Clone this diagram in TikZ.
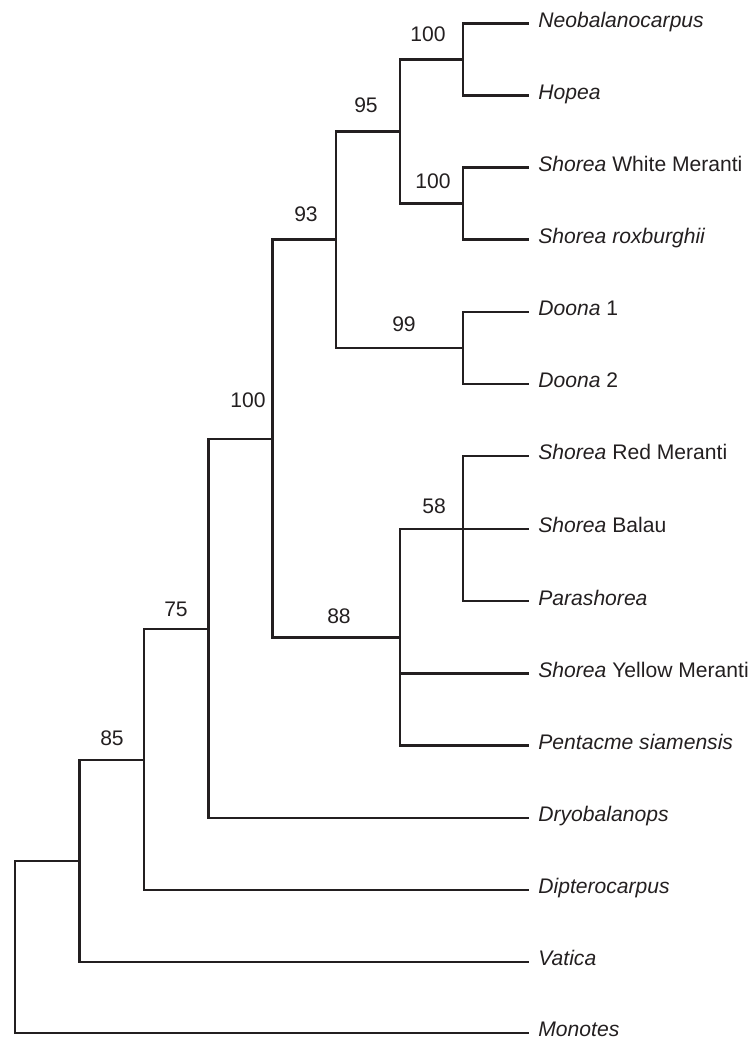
\documentclass[tikz,border=0pt]{standalone}
\usepackage{fontspec}
\setmainfont{Liberation Sans}
\definecolor{inkc}{HTML}{231F20}
\begin{document}
\begin{tikzpicture}[x=0.5pt,y=-0.5pt,
  branch/.style={draw=inkc, line width=1.2pt, line join=miter},
  leaf/.style={anchor=base west, inner sep=0pt, text=inkc, font=\fontsize{10.55}{12}\selectfont},
  support/.style={anchor=center, inner sep=0pt, text=inkc, font=\fontsize{10.55}{12}\selectfont}]
\useasboundingbox (0,0) rectangle (750,1040);
% leaf tips
\coordinate (t1) at (528.5,23.3);
\coordinate (t2) at (528.5,95.6);
\coordinate (t3) at (528.5,167.5);
\coordinate (t4) at (528.5,239.6);
\coordinate (t5) at (528.5,311.7);
\coordinate (t6) at (528.5,383.8);
\coordinate (t7) at (528.5,455.9);
\coordinate (t8) at (528.5,528.8);
\coordinate (t9) at (528.5,601.0);
\coordinate (t10) at (528.5,673.4);
\coordinate (t11) at (528.5,745.6);
\coordinate (t12) at (528.5,817.8);
\coordinate (t13) at (528.5,889.8);
\coordinate (t14) at (528.5,961.8);
\coordinate (t15) at (528.5,1032.7);
% leaf labels
\node[leaf] (l1) at (538,27.3) {\itshape Neobalanocarpus};
\node[leaf] (l2) at (538,99.6) {\itshape Hopea};
\node[leaf] (l3) at (538,171.5) {\textit{Shorea} White Meranti};
\node[leaf] (l4) at (538,243.6) {\itshape Shorea roxburghii};
\node[leaf] (l5) at (538,315.7) {\textit{Doona} 1};
\node[leaf] (l6) at (538,387.8) {\textit{Doona} 2};
\node[leaf] (l7) at (538,459.9) {\textit{Shorea} Red Meranti};
\node[leaf] (l8) at (538,532.8) {\textit{Shorea} Balau};
\node[leaf] (l9) at (538,605.0) {\itshape Parashorea};
\node[leaf] (l10) at (538,677.4) {\textit{Shorea} Yellow Meranti};
\node[leaf] (l11) at (538,749.6) {\itshape Pentacme siamensis};
\node[leaf] (l12) at (538,821.8) {\itshape Dryobalanops};
\node[leaf] (l13) at (538,893.8) {\itshape Dipterocarpus};
\node[leaf] (l14) at (538,965.8) {\itshape Vatica};
\node[leaf] (l15) at (538,1036.7) {\itshape Monotes};
% internal nodes
\coordinate (nA) at (463,59.5);
\coordinate (nB) at (463,203.6);
\coordinate (n95) at (400,131.5);
\coordinate (n99) at (463,347.8);
\coordinate (n93) at (336,239.6);
\coordinate (n58) at (463,528.8);
\coordinate (n88) at (400,637.5);
\coordinate (nC) at (272.5,438.8);
\coordinate (n75) at (208.5,629);
\coordinate (n85) at (144,760);
\coordinate (nV) at (79.3,861);
\coordinate (root) at (15,946.8);
% branches
\draw[branch] (nA) |- (t1);
\draw[branch] (nA) |- (t2);
\draw[branch] (nB) |- (t3);
\draw[branch] (nB) |- (t4);
\draw[branch] (n95) |- (nA);
\draw[branch] (n95) |- (nB);
\draw[branch] (n99) |- (t5);
\draw[branch] (n99) |- (t6);
\draw[branch] (n93) |- (n95);
\draw[branch] (n93) |- (n99);
\draw[branch] (n58) |- (t7);
\draw[branch] (n58) |- (t8);
\draw[branch] (n58) |- (t9);
\draw[branch] (n88) |- (n58);
\draw[branch] (n88) |- (t10);
\draw[branch] (n88) |- (t11);
\draw[branch] (nC) |- (n93);
\draw[branch] (nC) |- (n88);
\draw[branch] (n75) |- (nC);
\draw[branch] (n75) |- (t12);
\draw[branch] (n85) |- (n75);
\draw[branch] (n85) |- (t13);
\draw[branch] (nV) |- (n85);
\draw[branch] (nV) |- (t14);
\draw[branch] (root) |- (nV);
\draw[branch] (root) |- (t15);
% support values
\node[support] (sA) at (428,34.3) {100};
\node[support] (s95) at (366,105) {95};
\node[support] (sB) at (433,181) {100};
\node[support] (s93) at (306,214) {93};
\node[support] (s99) at (404,324) {99};
\node[support] (sC) at (248,400) {100};
\node[support] (s58) at (434,506.7) {58};
\node[support] (s88) at (339,616) {88};
\node[support] (s75) at (176,609.3) {75};
\node[support] (s85) at (112,738.7) {85};
\end{tikzpicture}
\end{document}
